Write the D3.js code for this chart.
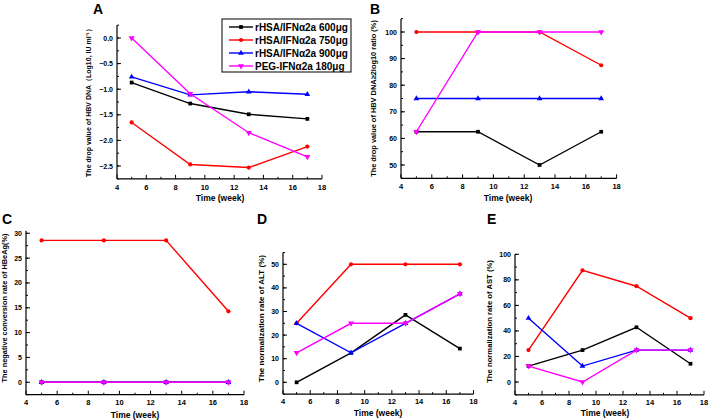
<!DOCTYPE html>
<html>
<head>
<meta charset="utf-8">
<script src="https://cdn.jsdelivr.net/npm/d3@7"></script>
<style>
  body { margin: 0; background: #fff; }
  svg { font-family: "Liberation Sans", Arial, sans-serif; font-weight: bold; }
</style>
</head>
<body>
<svg id="chart" width="709" height="420"></svg>
<script>
const weeks = [5, 9, 13, 17];
const seriesNames = ['rHSA/IFNα2a 600μg', 'rHSA/IFNα2a 750μg', 'rHSA/IFNα2a 900μg', 'PEG-IFNα2a 180μg'];
const colors = ['#000000', '#ff0000', '#0000ff', '#ff00ff'];
const symbols = [d3.symbolSquare, d3.symbolCircle, d3.symbolTriangle, 'down'];

// A: drop value of HBV DNA
const hbvDrop = [
  [-0.87, -1.28, -1.49, -1.58],
  [-1.65, -2.47, -2.53, -2.12],
  [-0.76, -1.11, -1.05, -1.10],
  [0.0, -1.09, -1.85, -2.32]
];
// B: HBV DNA >= 2log10 ratio
const hbvRatio = [
  [62.5, 62.5, 50, 62.5],
  [100, 100, 100, 87.5],
  [75, 75, 75, 75],
  [62.5, 100, 100, 100]
];
// C: HBeAg negative conversion
const hbeagRate = [
  [0, 0, 0, 0],
  [28.57, 28.57, 28.57, 14.29],
  [0, 0, 0, 0],
  [0, 0, 0, 0]
];
// D: ALT normalization
const altRate = [
  [0, 12.5, 28.57, 14.29],
  [25, 50, 50, 50],
  [25, 12.5, 25, 37.5],
  [12.5, 25, 25, 37.5]
];
// E: AST normalization
const astRate = [
  [12.5, 25, 42.86, 14.29],
  [25, 87.5, 75, 50],
  [50, 12.5, 25, 25],
  [12.5, 0, 25, 25]
];

const xTicks = [4, 6, 8, 10, 12, 14, 16, 18];

const panels = [
  { letter: 'A', data: hbvDrop, x: [117, 322], y: [178.8, 25.2], yDomain: [-2.75, 0.25],
    yTicks: [0, -0.5, -1, -1.5, -2, -2.5], fmt: d3.format('.1f'), minor: 0.25,
    ylabel: 'The drop value of HBV DNA（Log10, IU ml⁻¹）', ylab: [91, 101, 152],
    letterPos: [93, 14], xlab: [220, 201], tickGap: 11 },
  { letter: 'B', data: hbvRatio, x: [401, 616.6], y: [178.3, 18.7], yDomain: [45, 105],
    yTicks: [50, 60, 70, 80, 90, 100], fmt: d3.format('d'), minor: 5,
    ylabel: 'The drop value of HBV DNA≥2log10 ratio (%)', ylab: [376, 98.5, 157],
    letterPos: [370, 14], xlab: [508, 201], tickGap: 11 },
  { letter: 'C', data: hbeagRate, x: [26, 244], y: [394.7, 230.8], yDomain: [-2.5, 30.5],
    yTicks: [0, 5, 10, 15, 20, 25, 30], fmt: d3.format('d'), minor: 2.5,
    ylabel: 'The negative conversion rate of HBeAg(%)', ylab: [7, 308, 149],
    letterPos: [2, 224], xlab: [135, 418], tickGap: 10 },
  { letter: 'D', data: altRate, x: [283, 473.5], y: [394.1, 252.5], yDomain: [-5, 55],
    yTicks: [0, 10, 20, 30, 40, 50], fmt: d3.format('d'), minor: 5,
    ylabel: 'The normalization rate of ALT (%)', ylab: [264, 318.5, 127],
    letterPos: [257, 224], xlab: [378, 416], tickGap: 10 },
  { letter: 'E', data: astRate, x: [515, 704], y: [394.8, 254.3], yDomain: [-10, 100],
    yTicks: [0, 20, 40, 60, 80, 100], fmt: d3.format('d'), minor: 10,
    ylabel: 'The normalization rate of AST (%)', ylab: [492, 321.5, 123],
    letterPos: [487, 224], xlab: [605, 416], tickGap: 10 }
];

const svg = d3.select('#chart');

const marker = (g, k) => {
  if (symbols[k] === 'down') {
    g.append('path')
      .attr('d', d3.symbol(d3.symbolTriangle, 16)())
      .attr('transform', 'rotate(180)');
  } else {
    g.append('path').attr('d', d3.symbol(symbols[k], 14)());
  }
};

panels.forEach((p) => {
  const x = d3.scaleLinear().domain([4, 18]).range(p.x);
  const y = d3.scaleLinear().domain(p.yDomain).range(p.y);
  const g = svg.append('g');
  const y0 = p.y[0], x0 = p.x[0];

  // axes
  g.append('line').attr('x1', x0).attr('x2', x0).attr('y1', p.y[1]).attr('y2', y0)
    .attr('stroke', '#000').attr('stroke-width', 1.2);
  g.append('line').attr('x1', x0).attr('x2', p.x[1]).attr('y1', y0).attr('y2', y0)
    .attr('stroke', '#000').attr('stroke-width', 1.2);

  // x ticks (inward) with minor
  const xMinor = d3.range(5, 18, 2);
  g.selectAll('.xt').data(xTicks).enter().append('line')
    .attr('x1', d => x(d)).attr('x2', d => x(d)).attr('y1', y0).attr('y2', y0 - 4)
    .attr('stroke', '#000').attr('stroke-width', 1);
  g.selectAll('.xm').data(xMinor).enter().append('line')
    .attr('x1', d => x(d)).attr('x2', d => x(d)).attr('y1', y0).attr('y2', y0 - 2)
    .attr('stroke', '#000').attr('stroke-width', 1);
  g.selectAll('.xl').data(xTicks).enter().append('text')
    .attr('x', d => x(d)).attr('y', y0 + p.tickGap)
    .attr('text-anchor', 'middle').attr('font-size', 7.5)
    .text(d => d);

  // y ticks (inward) with minor
  const yMinor = d3.range(p.yDomain[0], p.yDomain[1] + 1e-9, p.minor)
    .filter(v => y(v) <= y0 + 0.1 && y(v) >= p.y[1] - 0.1);
  g.selectAll('.ym').data(yMinor).enter().append('line')
    .attr('x1', x0).attr('x2', x0 + 2).attr('y1', d => y(d)).attr('y2', d => y(d))
    .attr('stroke', '#000').attr('stroke-width', 1);
  g.selectAll('.yt').data(p.yTicks).enter().append('line')
    .attr('x1', x0).attr('x2', x0 + 4).attr('y1', d => y(d)).attr('y2', d => y(d))
    .attr('stroke', '#000').attr('stroke-width', 1);
  g.selectAll('.yl').data(p.yTicks).enter().append('text')
    .attr('x', x0 - 4).attr('y', d => y(d) + 2.5)
    .attr('text-anchor', 'end').attr('font-size', 7)
    .text(d => p.fmt(d));

  // labels
  g.append('text').attr('x', p.xlab[0]).attr('y', p.xlab[1])
    .attr('text-anchor', 'middle').attr('font-size', 8.5).text('Time (week)');
  const yl = g.append('text')
    .attr('transform', `translate(${p.ylab[0]},${p.ylab[1]}) rotate(-90)`)
    .attr('text-anchor', 'middle').attr('font-size', 7)
    .text(p.ylabel);
  // fit the rotated title to the length it has in the figure
  const len = yl.node().getComputedTextLength();
  yl.attr('font-size', 7 * p.ylab[2] / len);
  g.append('text').attr('x', p.letterPos[0]).attr('y', p.letterPos[1])
    .attr('font-size', 14).text(p.letter);

  // series
  const line = d3.line().x((d, i) => x(weeks[i])).y(d => y(d));
  p.data.forEach((vals, k) => {
    g.append('path').datum(vals)
      .attr('d', line).attr('fill', 'none')
      .attr('stroke', colors[k]).attr('stroke-width', 1.4);
    vals.forEach((v, i) => {
      const m = g.append('g')
        .attr('transform', `translate(${x(weeks[i])},${y(v)})`)
        .attr('fill', colors[k]);
      marker(m, k);
    });
  });
});

// legend
const legend = svg.append('g');
legend.append('rect').attr('x', 222).attr('y', 19).attr('width', 129).attr('height', 53)
  .attr('fill', '#fff').attr('stroke', '#000').attr('stroke-width', 1);
seriesNames.forEach((name, k) => {
  const ly = 27 + k * 13;
  legend.append('line').attr('x1', 229).attr('x2', 253).attr('y1', ly).attr('y2', ly)
    .attr('stroke', colors[k]).attr('stroke-width', 1.4);
  const m = legend.append('g').attr('transform', `translate(241,${ly})`).attr('fill', colors[k]);
  marker(m, k);
  legend.append('text').attr('x', 255).attr('y', ly + 3.5).attr('font-size', 10).text(name);
});
</script>
</body>
</html>
